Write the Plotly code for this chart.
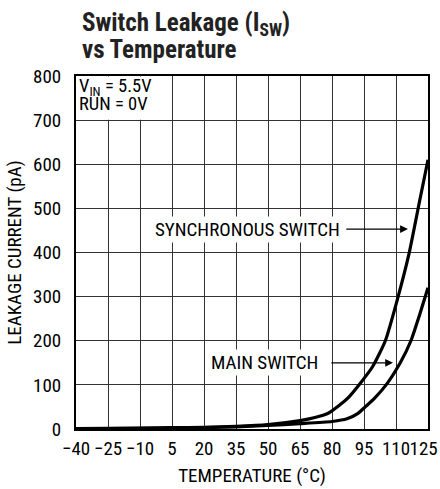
import plotly.graph_objects as go

x_ticks = [-40, -25, -10, 5, 20, 35, 50, 65, 80, 95, 110, 125]
x_labels = ["\u221240", "\u221225", "\u221210", "5", "20", "35", "50", "65", "80", "95",
            "110", "125\u00a0\u00a0"]
y_ticks = [0, 100, 200, 300, 400, 500, 600, 700, 800]

sync_temp = [-40, -25, -10, 5, 20, 35, 50, 65, 72, 78, 83, 88, 93, 99, 105, 111, 116, 121, 125]
sync_leak = [1, 1.5, 2, 3, 4, 6, 10, 19, 26, 35, 52, 73, 102, 141, 200, 300, 395, 515, 610]

main_temp = [-40, -25, -10, 5, 20, 35, 50, 65, 80, 87, 92, 96, 100, 106, 112, 117, 121, 125]
main_leak = [0.5, 1, 1.5, 2, 3, 5, 8, 12, 17, 23, 35, 52, 70, 104, 150, 200, 258, 320]

FONT = "Roboto Condensed, Liberation Sans Narrow, DejaVu Sans Condensed, Roboto, sans-serif"
FS = 19

fig = go.Figure()
fig.add_trace(go.Scatter(x=sync_temp, y=sync_leak, mode="lines",
                         line=dict(color="black", width=3.2, shape="spline", smoothing=0.6),
                         showlegend=False, hoverinfo="skip"))
fig.add_trace(go.Scatter(x=main_temp, y=main_leak, mode="lines",
                         line=dict(color="black", width=3.2, shape="spline", smoothing=0.6),
                         showlegend=False, hoverinfo="skip"))

fig.add_shape(type="rect", xref="x", yref="y", x0=-39.6, x1=4.6, y0=701, y1=799,
              fillcolor="white", line=dict(width=0), layer="between")

fig.add_annotation(x=-39.5, y=775, xref="x", yref="y", xanchor="left", yanchor="middle",
                   text="V<sub>IN</sub> = 5.5V", showarrow=False,
                   font=dict(family=FONT, size=18.5, color="black"))
fig.add_annotation(x=-39.5, y=736, xref="x", yref="y", xanchor="left", yanchor="middle",
                   text="RUN = 0V", showarrow=False,
                   font=dict(family=FONT, size=18.5, color="black"))

fig.add_annotation(x=115.6, y=453, ax=86, ay=453, xref="x", yref="y", axref="x", ayref="y",
                   text="", showarrow=True, arrowhead=2, arrowsize=1.2, arrowwidth=1.3,
                   arrowcolor="black")
fig.add_annotation(x=84.5, y=453, xref="x", yref="y", xanchor="right", yanchor="middle",
                   text="SYNCHRONOUS SWITCH", showarrow=False, bgcolor="white",
                   font=dict(family=FONT, size=FS, color="black"))
fig.add_annotation(x=108.6, y=150, ax=79, ay=150, xref="x", yref="y", axref="x", ayref="y",
                   text="", showarrow=True, arrowhead=2, arrowsize=1.2, arrowwidth=1.3,
                   arrowcolor="black")
fig.add_annotation(x=74.5, y=150, xref="x", yref="y", xanchor="right", yanchor="middle",
                   text="MAIN SWITCH", showarrow=False, bgcolor="white",
                   font=dict(family=FONT, size=FS, color="black"))

fig.update_layout(
    width=440, height=489,
    margin=dict(l=76, r=12, t=76, b=60),
    paper_bgcolor="white", plot_bgcolor="white",
    font=dict(family=FONT, color="black", size=FS),
    hovermode=False,
)


def py(px):
    return (429 - px) / (429 - 76)


def pxx(px):
    return (px - 76) / (428 - 76)


fig.add_annotation(x=pxx(80), y=py(6), xref="paper", yref="paper", xanchor="left", yanchor="top",
                   text="<b>Switch Leakage (I<sub>SW</sub>)</b>", showarrow=False,
                   font=dict(family=FONT, size=25, color="#222"))
fig.add_annotation(x=pxx(80), y=py(33), xref="paper", yref="paper", xanchor="left", yanchor="top",
                   text="<b>vs Temperature</b>", showarrow=False,
                   font=dict(family=FONT, size=25, color="#222"))

fig.update_xaxes(range=[-40, 125], tickvals=x_ticks, ticktext=x_labels, tickangle=0,
                 showgrid=True, gridcolor="#333", gridwidth=1,
                 showline=True, linecolor="black", linewidth=2, mirror=True,
                 ticks="", zeroline=False, ticklabelstandoff=1, automargin=False,
                 ticklabeloverflow="allow",
                 title=dict(text="TEMPERATURE (°C)", font=dict(size=FS), standoff=10),
                 tickfont=dict(size=FS))
fig.update_yaxes(range=[0, 800], tickvals=y_ticks,
                 showgrid=True, gridcolor="#333", gridwidth=1,
                 showline=True, linecolor="black", linewidth=2, mirror=True,
                 ticks="", zeroline=False, ticklabelstandoff=9, automargin=False,
                 ticklabeloverflow="allow",
                 title=dict(text="LEAKAGE CURRENT (pA)", font=dict(size=FS), standoff=6),
                 tickfont=dict(size=FS))

fig.write_html("out.html", config={"displayModeBar": False},
               post_script="document.body.style.margin='0';")
